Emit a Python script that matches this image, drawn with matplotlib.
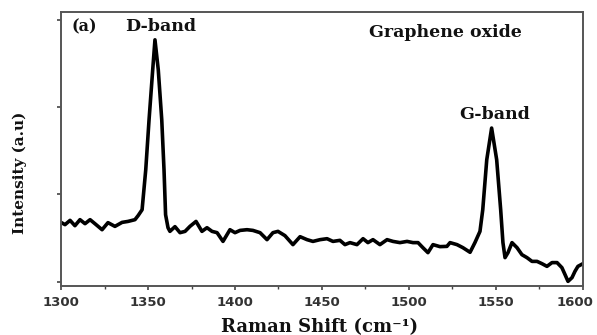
import matplotlib
matplotlib.use("Agg")
import matplotlib.pyplot as plt
import matplotlib.transforms as mtransforms
import numpy as np

# Raman shift (cm^-1) and intensity (a.u.)
shift = [1300.0, 1302.3, 1305.2, 1308.0, 1310.9, 1313.8, 1316.7, 1319.5, 1323.6, 1327.0,
         1331.0, 1335.1, 1338.5, 1342.5, 1344.3, 1346.6, 1348.7, 1350.6, 1352.7, 1354.0,
         1355.9, 1357.9, 1359.2, 1360.1, 1361.5, 1362.6, 1365.5, 1368.4, 1371.3, 1374.1,
         1377.6, 1381.0, 1383.9, 1386.8, 1389.7, 1393.1, 1397.1, 1400.0, 1402.9, 1406.9,
         1410.3, 1414.4, 1418.4, 1421.8, 1424.7, 1428.7, 1433.3, 1437.4, 1441.4, 1444.8,
         1448.9, 1452.9, 1456.3, 1460.3, 1463.2, 1466.1, 1470.1, 1473.6, 1476.4, 1479.3,
         1483.3, 1487.4, 1490.8, 1494.8, 1498.9, 1502.3, 1505.2, 1508.0, 1510.9, 1513.8,
         1517.8, 1521.8, 1523.6, 1527.6, 1531.0, 1535.1, 1537.9, 1539.7, 1540.8, 1542.4,
         1544.7, 1547.5, 1550.4, 1552.7, 1554.0, 1555.2, 1556.9, 1559.2, 1562.1, 1564.9,
         1567.8, 1570.7, 1573.6, 1576.4, 1579.3, 1582.2, 1585.1, 1587.9, 1589.7, 1591.4,
         1593.7, 1595.4, 1597.1, 1600.0]
intensity = [0.679, 0.653, 0.702, 0.641, 0.710, 0.664, 0.710, 0.664, 0.595, 0.676,
             0.633, 0.679, 0.690, 0.710, 0.756, 0.824, 1.282, 1.855, 2.427, 2.771,
             2.427, 1.855, 1.282, 0.767, 0.618, 0.576, 0.630, 0.561, 0.576, 0.633,
             0.690, 0.576, 0.618, 0.576, 0.561, 0.461, 0.595, 0.561, 0.587, 0.595,
             0.587, 0.561, 0.481, 0.561, 0.576, 0.527, 0.424, 0.515, 0.481, 0.461,
             0.481, 0.492, 0.461, 0.473, 0.424, 0.447, 0.424, 0.492, 0.447, 0.481,
             0.424, 0.481, 0.461, 0.447, 0.461, 0.447, 0.447, 0.389, 0.332, 0.424,
             0.401, 0.404, 0.447, 0.424, 0.389, 0.336, 0.447, 0.527, 0.576, 0.824,
             1.397, 1.760, 1.397, 0.824, 0.447, 0.275, 0.332, 0.447, 0.389, 0.309,
             0.275, 0.232, 0.232, 0.206, 0.175, 0.218, 0.218, 0.160, 0.080, 0.003,
             0.046, 0.118, 0.175, 0.206]

x_ticks = [1300, 1350, 1400, 1450, 1500, 1550, 1600]
y_ticks = [0, 1, 2, 3]

fig = plt.figure(figsize=(5.97, 3.35), dpi=100)
ax = fig.add_axes([0.1022, 0.1463, 0.8743, 0.8179])
ax.plot(shift, intensity, color="black", lw=2.6, solid_joinstyle="round")

ax.set_xlim(1300, 1600)
ax.set_ylim(-0.05, 3.09)
ax.set_xticks(x_ticks)
ax.set_xticks(np.arange(1325, 1600, 50), minor=True)
ax.set_yticks(y_ticks)
ax.set_yticklabels([])
ax.tick_params(axis="both", which="major", direction="out", length=3, width=1.2, color="#444444")
ax.tick_params(axis="x", which="minor", direction="out", length=2, width=1.0, color="#444444")
ax.tick_params(axis="x", labelsize=9.5, pad=4)
labels = ax.get_xticklabels()
for lab in labels:
    lab.set_fontweight("bold")
    lab.set_family("DejaVu Sans")
    lab.set_color("#333333")
# nudge last label so it stays inside the figure
offset = mtransforms.ScaledTranslation(-6 / 72, 0, fig.dpi_scale_trans)
labels[-1].set_transform(labels[-1].get_transform() + offset)
for sp in ax.spines.values():
    sp.set_color("#555555")
    sp.set_linewidth(1.4)

serif = {"family": "DejaVu Serif", "weight": "bold", "color": "#111111"}
ax.text(1306, 2.92, "(a)", fontsize=11.5, ha="left", va="center", **serif)
ax.text(1337, 2.92, "D-band", fontsize=12.5, ha="left", va="center", **serif)
ax.text(1521, 2.85, "Graphene oxide", fontsize=12.5, ha="center", va="center", **serif)
ax.text(1549, 1.91, "G-band", fontsize=12.5, ha="center", va="center", **serif)

fig.text(320 / 597, 1 - 327 / 335, "Raman Shift (cm⁻¹)", fontsize=13, ha="center", va="center", **serif)
fig.text(20 / 597, 1 - 173 / 335, "Intensity (a.u)", fontsize=11, ha="center", va="center",
         rotation=90, **serif)

fig.savefig("out.png", dpi=100, facecolor="white")
